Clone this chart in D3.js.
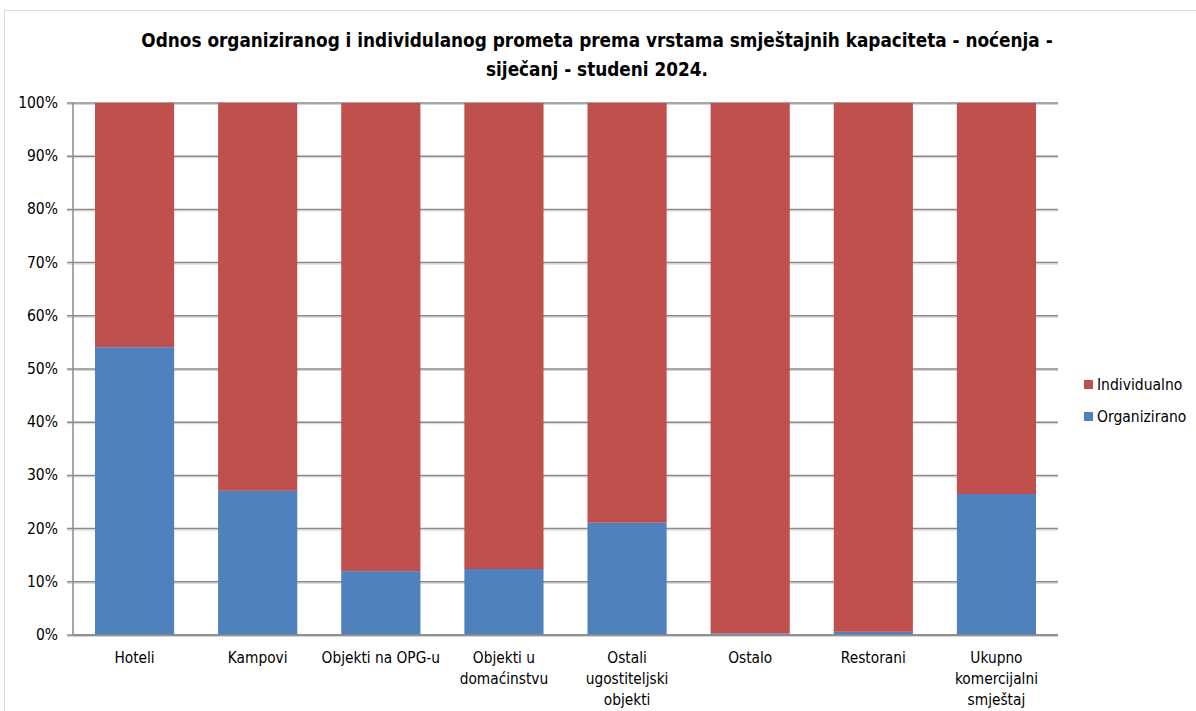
<!DOCTYPE html>
<html><head><meta charset="utf-8">
<script src="https://cdn.jsdelivr.net/npm/d3@7"></script>
<style>
body{margin:0;background:#fff;}
text{font-family:"DejaVu Sans Condensed","Open Sans",sans-serif;}
</style></head>
<body><svg id="c" width="1196" height="711"></svg>
<script>
const titleLines = ["Odnos organiziranog i individulanog prometa prema vrstama smještajnih kapaciteta - noćenja -", "siječanj - studeni 2024."];
const categories = ["Hoteli","Kampovi","Objekti na OPG-u","Objekti u domaćinstvu","Ostali ugostiteljski objekti","Ostalo","Restorani","Ukupno komercijalni smještaj"];
const categoryLines = [["Hoteli"],["Kampovi"],["Objekti na OPG-u"],["Objekti u","domaćinstvu"],["Ostali","ugostiteljski","objekti"],["Ostalo"],["Restorani"],["Ukupno","komercijalni","smještaj"]];
const organizirano = [54.1, 27.1, 12.0, 12.4, 21.1, 0.3, 0.6, 26.5];
const individualno = organizirano.map(v => 100 - v);
const seriesNames = ["Organizirano","Individualno"];
const seriesColors = ["#4F81BD","#C0504D"];
const yTicks = [0,10,20,30,40,50,60,70,80,90,100];

const svg = d3.select("#c");
const m = {left:73, right:1058, top:103, bottom:635};

svg.append("rect").attr("x",4.5).attr("y",10.5).attr("width",1200).attr("height",720)
  .attr("fill","none").attr("stroke","#d9d9d9").attr("stroke-width",1);

const x = d3.scaleBand().domain(categories).range([m.left,m.right]).paddingInner(0.357).paddingOuter(0.1785);
const y = d3.scaleLinear().domain([0,100]).range([m.bottom,m.top]);

// gridlines
const g = svg.append("g");
yTicks.forEach(t=>{
  g.append("line").attr("x1",m.left-6).attr("x2",m.right).attr("y1",y(t)+1.5).attr("y2",y(t)+1.5)
    .attr("stroke","#d4d4d4").attr("stroke-width",1);
  g.append("line").attr("x1",m.left-6).attr("x2",m.right).attr("y1",y(t)).attr("y2",y(t))
    .attr("stroke","#8a8a8a").attr("stroke-width",1.5);
});

// stacked bars
const data = categories.map((c,i)=>({cat:c, Organizirano:organizirano[i], Individualno:individualno[i]}));
const stack = d3.stack().keys(seriesNames)(data);
stack.forEach((s,si)=>{
  svg.append("g").selectAll("rect").data(s).join("rect")
    .attr("x",d=>x(d.data.cat)).attr("width",x.bandwidth())
    .attr("y",d=>y(d[1])).attr("height",d=>y(d[0])-y(d[1]))
    .attr("fill",seriesColors[si]);
});

// axis lines
svg.append("line").attr("x1",m.left).attr("x2",m.left).attr("y1",m.top).attr("y2",m.bottom)
  .attr("stroke","#8a8a8a").attr("stroke-width",1.5);
svg.append("line").attr("x1",m.left).attr("x2",m.right).attr("y1",m.bottom).attr("y2",m.bottom)
  .attr("stroke","#8a8a8a").attr("stroke-width",1.5);

// y labels
yTicks.forEach(t=>{
  svg.append("text").attr("x",58).attr("y",y(t)+5).attr("text-anchor","end")
    .attr("font-size",15.5).attr("fill","#000").text(t+"%");
});

// x labels
categoryLines.forEach((lines,i)=>{
  const cx = x(categories[i]) + x.bandwidth()/2;
  lines.forEach((ln,j)=>{
    svg.append("text").attr("x",cx).attr("y",663+j*21).attr("text-anchor","middle")
      .attr("font-size",15.3).attr("fill","#000").text(ln);
  });
});

// title
titleLines.forEach((t,i)=>{
  svg.append("text").attr("x",597).attr("y",47+i*29).attr("text-anchor","middle")
    .attr("font-size",18.8).attr("font-weight","bold").attr("fill","#000").text(t);
});

// legend
const legend = [{n:"Individualno",c:seriesColors[1],y:385},{n:"Organizirano",c:seriesColors[0],y:417}];
legend.forEach(l=>{
  svg.append("rect").attr("x",1084).attr("y",l.y-5).attr("width",9).attr("height",9).attr("fill",l.c);
  svg.append("text").attr("x",1097).attr("y",l.y+5).attr("font-size",15.5).attr("fill","#000").text(l.n);
});
</script></body></html>
